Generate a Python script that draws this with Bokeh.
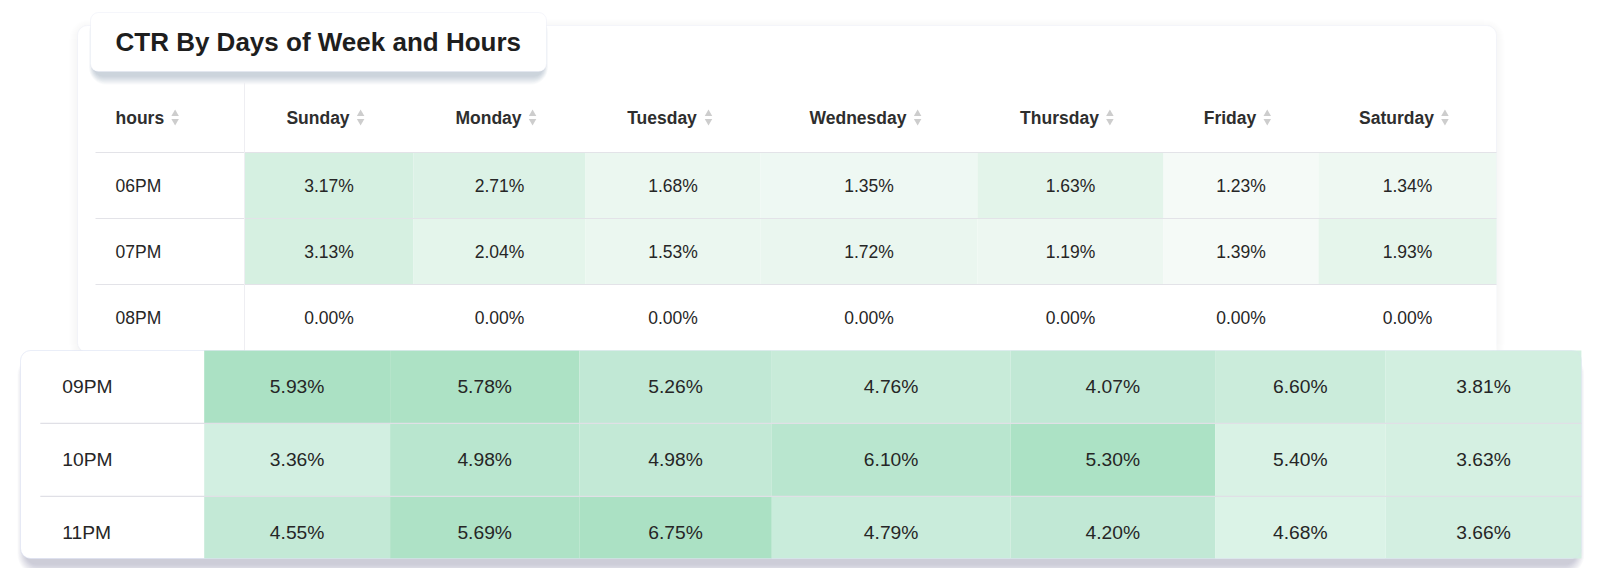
from bokeh.plotting import figure
from bokeh.models import ColumnDataSource, Range1d, BoxAnnotation
from bokeh.core.properties import value
from bokeh.embed import file_html
from bokeh.resources import INLINE

# ---------------- data ----------------
title_text = "CTR By Days of Week and Hours"
hours_header = "hours"
hours = ["06PM", "07PM", "08PM", "09PM", "10PM", "11PM"]
days = ["Sunday", "Monday", "Tuesday", "Wednesday", "Thursday", "Friday", "Saturday"]
ctr_sunday = [3.17, 3.13, 0.00, 5.93, 3.36, 4.55]
ctr_monday = [2.71, 2.04, 0.00, 5.78, 4.98, 5.69]
ctr_tuesday = [1.68, 1.53, 0.00, 5.26, 4.98, 6.75]
ctr_wednesday = [1.35, 1.72, 0.00, 4.76, 6.10, 4.79]
ctr_thursday = [1.63, 1.19, 0.00, 4.07, 5.30, 4.20]
ctr_friday = [1.23, 1.39, 0.00, 6.60, 5.40, 4.68]
ctr_saturday = [1.34, 1.93, 0.00, 3.81, 3.63, 3.66]
ctr_by_day = [ctr_sunday, ctr_monday, ctr_tuesday, ctr_wednesday,
              ctr_thursday, ctr_friday, ctr_saturday]

# ---------------- styles ----------------
cell_colors = [
    ["#D5F0E1", "#DCF2E6", "#EBF7F0", "#EEF8F3", "#E3F4EA", "#F5FAF7", "#EEF8F2"],
    ["#D6F0E1", "#E4F5EB", "#EBF7F0", "#EAF6EF", "#EDF7F1", "#F5FAF7", "#E5F5EB"],
    ["#FFFFFF"] * 7,
    ["#ABE1C4", "#ADE2C5", "#C1E8D5", "#C8EBD9", "#C1E8D5", "#CBECDB", "#D2EFE0"],
    ["#D2EFE1", "#B9E6CF", "#C3E9D6", "#B9E6CF", "#ACE2C5", "#D9F2E5", "#D5F0E2"],
    ["#C3E9D6", "#AEE2C6", "#ABE1C4", "#C9ECDB", "#C1E8D5", "#DBF3E7", "#D3EFE1"],
]
FONT = "Liberation Sans"
TEXT_COLOR = "#262626"
LINE_COLOR = "#E3E3E8"

# ---------------- layout (reference pixels) ----------------
W, H = 1584, 568
PAGE_H = 584
def Y(y):
    return PAGE_H - y

COL_EDGES = [244, 413, 585, 760, 977, 1163, 1318, 1496]
CARD_L, CARD_T, CARD_R = 77, 25, 1496
LABEL_X = 115
LINE_X0 = 95
HEADER_Y = 117
ROW_TOP0 = 152
ROW_H = 66
BACK_ROWS = 3
FONT_PX = 17.5

# front (zoomed) card
F_L, F_T, F_B = 20, 350, 558
SX, SY = 1.1, 1.105
def FX(x):
    return F_L + (x - CARD_L) * SX
def FY(y):
    return F_T + (y - (ROW_TOP0 + ROW_H * BACK_ROWS)) * SY

# Arial/Liberation bold advance widths (per 1000 em)
BOLD_W = {"a": 556, "d": 611, "e": 556, "h": 611, "i": 278, "n": 611, "o": 611,
          "r": 389, "s": 556, "t": 333, "u": 611, "y": 556, "F": 611, "M": 833,
          "S": 667, "T": 611, "W": 944}
def bold_width(s, px):
    return sum(BOLD_W.get(c, 600) for c in s) / 1000.0 * px

p = figure(width=W, height=H, x_range=Range1d(0, W), y_range=Range1d(PAGE_H - H, PAGE_H),
           output_backend="svg", toolbar_location=None, x_axis_type=None, y_axis_type=None,
           min_border=0, outline_line_color=None, background_fill_color="white",
           border_fill_color="white")
p.grid.visible = False


def card(l, t, r, b, radius, line_color, shadow_color, spread, dy, alpha, inset=0, side=1.0,
         level="underlay"):
    for i in range(spread, 0, -1):
        e = i * side
        p.add_layout(BoxAnnotation(left=l + inset - e, right=r - inset + e,
                                   top=Y(t + inset + dy - e), bottom=Y(b + dy + i),
                                   fill_color=shadow_color, fill_alpha=alpha, line_color=None,
                                   border_radius=radius + i, level=level))
    p.add_layout(BoxAnnotation(left=l, right=r, top=Y(t), bottom=Y(b), fill_color="white",
                               fill_alpha=1.0, line_color=line_color, line_width=1,
                               border_radius=radius, level=level))


# back card
card(CARD_L, CARD_T, CARD_R, 352, 10, "#E2E6F4", "#6A74A6", 10, 2, 0.009, inset=2, side=1.0)
# title card
card(90, 12, 546, 71, 8, "#DDE2F2", "#4E5688", 9, 4, 0.03, inset=4, side=0.6)

# ---- back table ----
cl, cr, ct, cb, ccol = [], [], [], [], []
vx, vy, vt = [], [], []
lx, ly, lt = [], [], []
for ri in range(BACK_ROWS):
    top = ROW_TOP0 + ROW_H * ri
    for ci, vals in enumerate(ctr_by_day):
        cl.append(COL_EDGES[ci]); cr.append(COL_EDGES[ci + 1])
        ct.append(Y(top)); cb.append(Y(top + ROW_H))
        ccol.append(cell_colors[ri][ci])
        vx.append((COL_EDGES[ci] + COL_EDGES[ci + 1]) / 2)
        vy.append(Y(top + ROW_H / 2))
        vt.append(f"{vals[ri]:.2f}%")
    lx.append(LABEL_X); ly.append(Y(top + ROW_H / 2)); lt.append(hours[ri])

p.quad(left="l", right="r", top="t", bottom="b", fill_color="c", line_color=None,
       source=ColumnDataSource(dict(l=cl, r=cr, t=ct, b=cb, c=ccol)))

seg_y = [ROW_TOP0 + ROW_H * k for k in range(BACK_ROWS)]
p.segment(x0=[LINE_X0] * len(seg_y), x1=[CARD_R] * len(seg_y), y0=[Y(v) for v in seg_y],
          y1=[Y(v) for v in seg_y], line_color=LINE_COLOR, line_width=1)
p.segment(x0=[COL_EDGES[0]], x1=[COL_EDGES[0]], y0=[Y(82)], y1=[Y(350)],
          line_color="#EEEEF2", line_width=1)

p.text(x=vx, y=vy, text=vt, text_font=value(FONT), text_font_size=value(f"{FONT_PX}px"),
       text_align="center", text_baseline="middle", text_color=TEXT_COLOR)
p.text(x=lx, y=ly, text=lt, text_font=value(FONT), text_font_size=value(f"{FONT_PX}px"),
       text_align="left", text_baseline="middle", text_color=TEXT_COLOR)

# headers
hx = [(COL_EDGES[i] + COL_EDGES[i + 1]) / 2 - 11 for i in range(len(days))]
p.text(x=hx, y=[Y(HEADER_Y)] * len(days), text=days, text_font=value(FONT),
       text_font_size=value(f"{FONT_PX}px"), text_font_style="bold", text_align="center",
       text_baseline="middle", text_color="#2E2E2E")
p.text(x=[LABEL_X], y=[Y(HEADER_Y)], text=[hours_header], text_font=value(FONT),
       text_font_size=value(f"{FONT_PX}px"), text_font_style="bold", text_align="left",
       text_baseline="middle", text_color="#2E2E2E")
icon_x = [LABEL_X + bold_width(hours_header, FONT_PX) + 11] + \
         [hx[i] + bold_width(d, FONT_PX) / 2 + 11 for i, d in enumerate(days)]
p.scatter(x=icon_x, y=[Y(HEADER_Y) + 3.6] * len(icon_x), marker="triangle", size=7.5,
          fill_color="#CDCDCD", line_color=None)
p.scatter(x=icon_x, y=[Y(HEADER_Y) - 3.6] * len(icon_x), marker="inverted_triangle", size=7.5,
          fill_color="#CDCDCD", line_color=None)

# title
p.text(x=[115], y=[Y(41)], text=[title_text], text_font=value(FONT), text_font_size=value("26px"),
       text_font_style="bold", text_align="left", text_baseline="middle", text_color="#1E1E1E")

# ---- front (zoomed) card ----
F_R = FX(CARD_R)
card(F_L, F_T, F_R, F_B, 10, "#D8DEF2", "#4A548A", 13, 5, 0.022, inset=6, side=0.7)

fl, fr, ft, fb, fc = [], [], [], [], []
fvx, fvy, fvt = [], [], []
flx, fly, flt = [], [], []
for ri in range(BACK_ROWS, len(hours)):
    top = ROW_TOP0 + ROW_H * ri
    y0 = FY(top)
    y1 = min(FY(top + ROW_H), F_B)
    yc = FY(top + ROW_H / 2)
    for ci, vals in enumerate(ctr_by_day):
        fl.append(FX(COL_EDGES[ci])); fr.append(FX(COL_EDGES[ci + 1]))
        ft.append(Y(y0)); fb.append(Y(y1)); fc.append(cell_colors[ri][ci])
        fvx.append(FX((COL_EDGES[ci] + COL_EDGES[ci + 1]) / 2)); fvy.append(Y(yc))
        fvt.append(f"{vals[ri]:.2f}%")
    flx.append(FX(LABEL_X)); fly.append(Y(yc)); flt.append(hours[ri])

p.quad(left="l", right="r", top="t", bottom="b", fill_color="c", line_color=None,
       source=ColumnDataSource(dict(l=fl, r=fr, t=ft, b=fb, c=fc)))
fseg = [FY(ROW_TOP0 + ROW_H * k) for k in range(BACK_ROWS + 1, len(hours))]
p.segment(x0=[FX(LINE_X0)] * len(fseg), x1=[F_R] * len(fseg), y0=[Y(v) for v in fseg],
          y1=[Y(v) for v in fseg], line_color="#E0E0E6", line_width=1.2)
p.text(x=fvx, y=fvy, text=fvt, text_font=value(FONT), text_font_size=value(f"{FONT_PX * SX:.2f}px"),
       text_align="center", text_baseline="middle", text_color=TEXT_COLOR)
p.text(x=flx, y=fly, text=flt, text_font=value(FONT), text_font_size=value(f"{FONT_PX * SX:.2f}px"),
       text_align="left", text_baseline="middle", text_color=TEXT_COLOR)

# front card border on top
p.add_layout(BoxAnnotation(left=F_L, right=F_R, top=Y(F_T), bottom=Y(F_B), fill_alpha=0,
                           line_color="#D8DEF2", line_width=1, border_radius=10))

open("out.html", "w").write(file_html(p, INLINE))
